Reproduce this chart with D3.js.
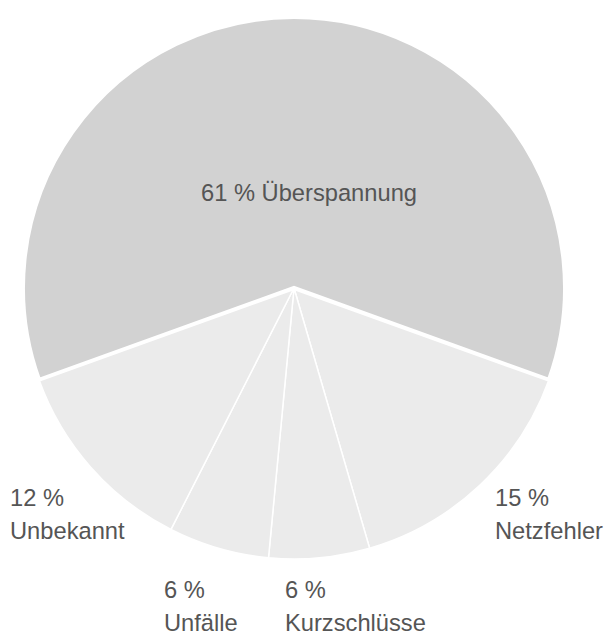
<!DOCTYPE html>
<html>
<head>
<meta charset="utf-8">
<script src="https://cdn.jsdelivr.net/npm/d3@7"></script>
<style>
  body { margin: 0; background: #fff; }
  text { font-family: "Liberation Sans", Arial, sans-serif; font-size: 23.7px; fill: #555; }
</style>
</head>
<body>
<div id="chart"></div>
<script>
const categories = ['Überspannung', 'Netzfehler', 'Kurzschlüsse', 'Unfälle', 'Unbekannt'];
const shares = [61, 15, 6, 6, 12];

const width = 606;
const height = 637;
const cx = 294, cy = 288, radius = 271;

// label anchors (start-aligned), one per category
const labelAt = [
  { x: 201, y: 201, inline: true },
  { x: 495, y: 506 },
  { x: 285, y: 598 },
  { x: 164, y: 598 },
  { x: 10, y: 506 }
];

const data = categories.map((c, i) => ({ name: c, value: shares[i] }));

const svg = d3.select('#chart')
  .append('svg')
  .attr('width', width)
  .attr('height', height);

// big slice centred on 12 o'clock
const half = shares[0] / 100 * Math.PI;
const pie = d3.pie()
  .value(d => d.value)
  .sort(null)
  .startAngle(-half)
  .endAngle(2 * Math.PI - half);

const arc = d3.arc().innerRadius(0).outerRadius(radius);

const g = svg.append('g').attr('transform', `translate(${cx},${cy})`);

const arcs = pie(data);

g.selectAll('path')
  .data(arcs.slice(1))
  .join('path')
    .attr('d', arc)
    .attr('fill', '#ebebeb')
    .attr('stroke', '#fff')
    .attr('stroke-width', 1.5)
    .attr('stroke-linejoin', 'round');

g.append('path')
  .datum(arcs[0])
  .attr('d', arc)
  .attr('fill', '#d2d2d2')
  .attr('stroke', '#fff')
  .attr('stroke-width', 4)
  .attr('stroke-linejoin', 'miter');

const labels = svg.append('g')
  .selectAll('text')
  .data(data)
  .join('text')
    .attr('x', (d, i) => labelAt[i].x)
    .attr('y', (d, i) => labelAt[i].y);

labels.each(function(d, i) {
  const t = d3.select(this);
  if (labelAt[i].inline) {
    t.text(`${d.value} % ${d.name}`);
  } else {
    t.append('tspan').attr('x', labelAt[i].x).text(`${d.value} %`);
    t.append('tspan').attr('x', labelAt[i].x).attr('dy', 33).text(d.name);
  }
});
</script>
</body>
</html>
